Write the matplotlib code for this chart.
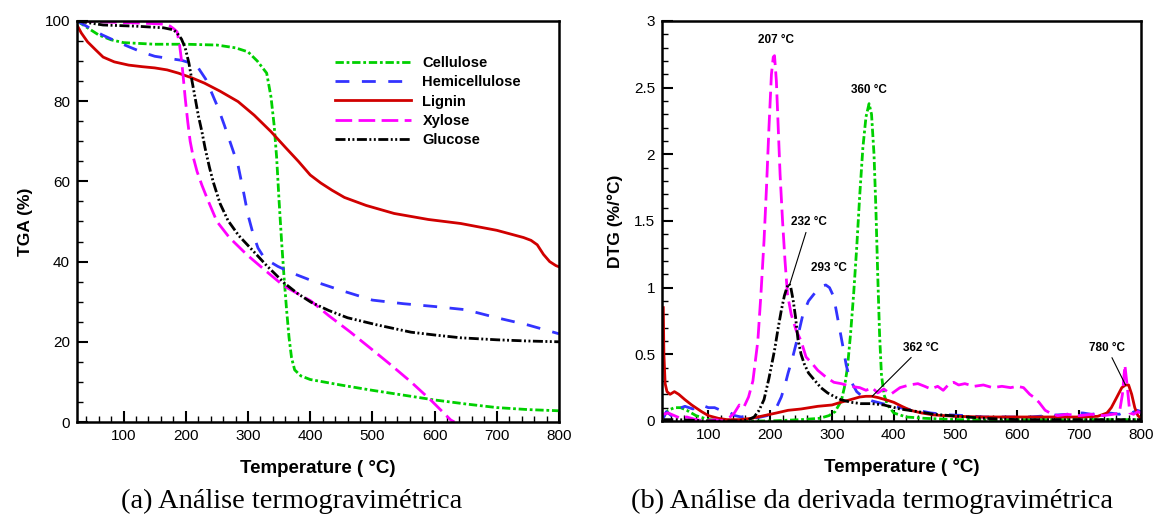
import matplotlib
matplotlib.use('Agg')
import matplotlib.pyplot as plt
from matplotlib.ticker import MultipleLocator, FormatStrFormatter

plt.rcParams['font.family'] = ['Liberation Sans', 'DejaVu Sans']

# ---- TGA (%) ----
t_cel = [25, 40, 60, 80, 100, 150, 200, 250, 280, 300, 315, 325, 330, 337, 342, 346, 350,
         354, 358, 362, 366, 370, 375, 385, 400, 450, 500, 550, 600, 650, 700, 750, 800]
tga_cel = [100, 98.5, 96.5, 95.3, 94.6, 94.2, 94.2, 94.0, 93.3, 92.3, 90.0, 88.0, 87.0, 81.0,
           74.0, 66.0, 55.0, 45.0, 36.0, 28.0, 21.0, 16.0, 13.0, 11.5, 10.6, 9.2, 7.9, 6.7,
           5.5, 4.5, 3.6, 3.1, 2.8]

t_hem = [25, 45, 66, 90, 108, 130, 150, 175, 193, 210, 220, 232, 241, 252, 262, 273, 284,
         292, 300, 308, 316, 325, 335, 348, 370, 400, 450, 500, 550, 600, 650, 700, 750, 800]
tga_hem = [100, 98.3, 96.5, 94.8, 93.6, 92.2, 91.2, 90.6, 90.2, 89.4, 88.3, 85.5, 82.3, 78.3,
           74.0, 69.0, 64.0, 58.0, 51.6, 47.0, 43.4, 41.2, 40.0, 38.8, 37.2, 35.4, 32.8, 30.4,
           29.5, 28.8, 28.0, 26.0, 24.2, 22.0]

t_lig = [25, 32, 42, 55, 67, 85, 108, 130, 150, 170, 188, 210, 230, 255, 284, 310, 337, 360,
         381, 400, 417, 435, 455, 490, 535, 590, 642, 700, 743, 755, 765, 775, 785, 795, 800]
tga_lig = [99, 97, 94.8, 92.8, 91, 89.8, 89, 88.6, 88.3, 87.8, 87, 85.8, 84.5, 82.5, 79.9,
           76.5, 72.4, 68.5, 65, 61.6, 59.6, 57.8, 56, 54, 52, 50.5, 49.5, 47.8, 46, 45.3,
           44.2, 41.8, 40.0, 39.0, 38.7]

t_xyl = [25, 60, 100, 140, 165, 175, 181, 186, 190, 194, 199, 203, 207, 212, 218, 226, 235,
         250, 270, 299, 330, 357, 380, 401, 430, 464, 500, 530, 562, 595, 626, 632]
tga_xyl = [100, 99.8, 99.6, 99.4, 99.2, 98.7, 98, 97.3, 94, 89, 80.8, 75, 70, 66, 62.5,
           59, 55.5, 50, 46, 41.6, 37.5, 34.0, 32.0, 30.2, 26.5, 22.5, 18, 14.2, 10,
           5.3, 0.5, 0]

t_glu = [25, 67, 120, 164, 180, 186, 193, 199, 205, 210, 215, 220, 226, 231, 238, 244, 255,
         268, 285, 305, 330, 358, 380, 401, 430, 460, 508, 562, 600, 642, 700, 750, 800]
tga_glu = [100, 99, 98.7, 98.3, 97.8, 97, 95.5, 93.3, 89.5, 85, 80.8, 76.5, 72.3, 68.3,
           63.5, 59.9, 54.5, 50.2, 46.5, 43.2, 39, 34.7, 32, 29.9, 27.8, 26, 24.2, 22.4,
           21.7, 21, 20.5, 20.2, 20]

# ---- DTG (%/°C) ----
d_t_cel = [27, 35, 45, 55, 65, 80, 100, 150, 200, 250, 280, 295, 305, 315, 320, 325, 330,
           335, 340, 345, 350, 355, 360, 364, 368, 371, 374, 377, 380, 384, 390, 400, 420,
           450, 500, 600, 700, 800]
dtg_cel = [0.03, 0.08, 0.1, 0.1, 0.08, 0.04, 0.01, 0.0, 0.0, 0.01, 0.02, 0.04, 0.07, 0.15,
           0.25, 0.4, 0.65, 0.95, 1.3, 1.7, 2.05, 2.28, 2.38, 2.3, 2.0, 1.6, 1.1, 0.65, 0.35,
           0.2, 0.12, 0.06, 0.03, 0.02, 0.01, 0.01, 0.01, 0.01]

d_t_hem = [27, 32, 40, 50, 62, 75, 89, 100, 110, 120, 132, 143, 153, 165, 174, 185, 195,
           202, 210, 218, 224, 229, 236, 243, 253, 262, 274, 283, 290, 296, 302, 306, 310,
           314, 318, 323, 328, 334, 340, 350, 365, 382, 400, 420, 439, 460, 492, 520, 545,
           580, 620, 650, 664, 680, 695, 706, 720, 735, 749, 765, 775, 785, 794, 800]
dtg_hem = [0.02, 0.07, 0.04, 0.09, 0.11, 0.09, 0.12, 0.1, 0.1, 0.08, 0.07, 0.04, 0.03, 0.04,
           0.02, 0.03, 0.04, 0.06, 0.1, 0.18, 0.27, 0.36, 0.47, 0.6, 0.8, 0.9, 0.97, 1.01,
           1.02, 1.0, 0.94, 0.85, 0.75, 0.65, 0.55, 0.42, 0.33, 0.27, 0.22, 0.18, 0.15, 0.13,
           0.11, 0.09, 0.08, 0.06, 0.045, 0.04, 0.03, 0.03, 0.03, 0.04, 0.045, 0.05, 0.06,
           0.06, 0.05, 0.06, 0.06, 0.05, 0.07, 0.06, 0.08, 0.07]

d_t_lig = [27, 28, 30, 33, 38, 45, 52, 62, 73, 89, 100, 116, 130, 150, 170, 190, 210, 229,
           250, 277, 300, 314, 330, 345, 355, 365, 375, 390, 400, 413, 427, 445, 465, 500,
           545, 600, 650, 706, 730, 745, 752, 760, 769, 775, 780, 785, 790, 795, 800]
dtg_lig = [0.85, 0.5, 0.28, 0.22, 0.2, 0.22, 0.2, 0.16, 0.12, 0.07, 0.04, 0.02, 0.01, 0.01,
           0.02, 0.04, 0.06, 0.08, 0.09, 0.11, 0.12, 0.14, 0.16, 0.18, 0.185, 0.185, 0.175,
           0.155, 0.14, 0.11, 0.08, 0.06, 0.045, 0.035, 0.03, 0.03, 0.03, 0.03, 0.035, 0.06,
           0.1, 0.17, 0.25, 0.27, 0.27, 0.2, 0.1, 0.04, 0.02]

d_t_xyl = [27, 35, 45, 55, 65, 80, 95, 110, 125, 135, 142, 150, 157, 165, 172, 180, 185,
           190, 194, 198, 202, 205, 207, 210, 213, 216, 220, 224, 228, 234, 242, 250, 258,
           268, 277, 290, 303, 315, 330, 345, 355, 365, 374, 384, 395, 410, 425, 439, 450,
           460, 471, 480, 490, 497, 505, 515, 530, 545, 560, 575, 589, 600, 610, 620, 626,
           635, 645, 653, 665, 680, 700, 720, 739, 755, 765, 770, 774, 778, 782, 788, 795, 800]
dtg_xyl = [0.05, 0.06, 0.04, 0.02, 0.03, 0.01, 0.0, 0.01, 0.0, 0.03, 0.06, 0.12, 0.1, 0.18,
           0.3, 0.6, 0.95, 1.35, 1.75, 2.2, 2.6, 2.73, 2.74, 2.55, 2.2, 1.85, 1.5, 1.2, 0.95,
           0.8, 0.68, 0.6, 0.48, 0.43, 0.38, 0.33, 0.29, 0.28, 0.26, 0.25, 0.23, 0.25, 0.21,
           0.24, 0.2, 0.25, 0.27, 0.28, 0.26, 0.24, 0.26, 0.23, 0.28, 0.29, 0.27, 0.28, 0.26,
           0.27, 0.25, 0.26, 0.25, 0.26, 0.25, 0.2, 0.18, 0.14, 0.08, 0.06, 0.04, 0.05, 0.04,
           0.05, 0.04, 0.05, 0.06, 0.2, 0.42, 0.25, 0.06, 0.05, 0.07, 0.06]

d_t_glu = [27, 50, 100, 150, 165, 174, 182, 190, 198, 207, 213, 218, 223, 227, 230, 233, 237,
           241, 245, 250, 255, 262, 271, 282, 293, 305, 314, 331, 347, 365, 384, 410, 439,
           465, 492, 545, 600, 700, 800]
dtg_glu = [0.01, 0.01, 0.0, 0.0, 0.01, 0.03, 0.08, 0.16, 0.32, 0.53, 0.7, 0.83, 0.94, 1.0,
           1.03, 1.01, 0.91, 0.78, 0.61, 0.5, 0.43, 0.36, 0.31, 0.25, 0.21, 0.18, 0.16, 0.14,
           0.13, 0.13, 0.12, 0.09, 0.07, 0.05, 0.04, 0.02, 0.01, 0.01, 0.01]

names = ['Cellulose', 'Hemicellulose', 'Lignin', 'Xylose', 'Glucose']
colors = ['#00d000', '#3333ff', '#d00000', '#ff00ff', '#000000']
styles = [(0, (3, 1, 1, 1)), (0, (5, 4.5)), '-', (0, (6, 2.3)), (0, (3.6, 0.9, 0.7, 0.9, 0.7, 0.9))]

tga = [(t_cel, tga_cel), (t_hem, tga_hem), (t_lig, tga_lig), (t_xyl, tga_xyl), (t_glu, tga_glu)]
dtg = [(d_t_cel, dtg_cel), (d_t_hem, dtg_hem), (d_t_lig, dtg_lig), (d_t_xyl, dtg_xyl),
       (d_t_glu, dtg_glu)]

fig = plt.figure(figsize=(11.54, 5.18), dpi=100)
ax1 = fig.add_axes([0.0667, 0.1853, 0.4177, 0.7742])
ax2 = fig.add_axes([0.5737, 0.1873, 0.4150, 0.7722])

lw = 2.0
for (x, y), n, c, s in zip(tga, names, colors, styles):
    ax1.plot(x, y, color=c, ls=s, lw=lw, label=n)
for (x, y), c, s in zip(dtg, colors, styles):
    ax2.plot(x, y, color=c, ls=s, lw=lw)

for ax in (ax1, ax2):
    ax.set_xlim(25, 800)
    ax.xaxis.set_major_locator(MultipleLocator(100))
    ax.xaxis.set_minor_locator(MultipleLocator(20))
    ax.tick_params(which='major', direction='in', length=8, width=1.5, labelsize=11,
                   top=False, right=False, pad=5)
    ax.tick_params(which='minor', direction='in', length=4.5, width=1.0, top=False, right=False)
    for sp in ax.spines.values():
        sp.set_linewidth(1.8)
    ax.set_xlabel('Temperature ( °C)', labelpad=12, fontsize=13.5, fontweight='bold')

ax1.set_ylim(0, 100)
ax1.yaxis.set_major_locator(MultipleLocator(20))
ax1.yaxis.set_minor_locator(MultipleLocator(5))
ax1.set_ylabel('TGA (%)', labelpad=8, fontsize=12.5, fontweight='bold')

ax2.set_ylim(0, 3)
ax2.yaxis.set_major_locator(MultipleLocator(0.5))
ax2.yaxis.set_minor_locator(MultipleLocator(0.1))
ax2.yaxis.set_major_formatter(FormatStrFormatter('%g'))
ax2.set_ylabel('DTG (%/°C)', labelpad=8, fontsize=12.5, fontweight='bold')

ax1.legend(loc='upper left', bbox_to_anchor=(0.52, 0.93), frameon=False,
           handlelength=5.2, handletextpad=0.8, labelspacing=0.35, borderpad=0,
           prop=dict(size=10.5, weight='bold'))

# peak annotations
ann = dict(fontsize=8.5, fontweight='bold', ha='center', va='center')
line = dict(arrowstyle='-', lw=0.8, color='black', shrinkA=1, shrinkB=0)
ax2.text(210, 2.86, '207 °C', **ann)
ax2.text(360, 2.48, '360 °C', **ann)
ax2.text(295, 1.15, '293 °C', **ann)
ax2.annotate('232 °C', xy=(232, 1.03), xytext=(263, 1.49), arrowprops=line, **ann)
ax2.annotate('362 °C', xy=(365, 0.185), xytext=(444, 0.55), arrowprops=line, **ann)
ax2.annotate('780 °C', xy=(775, 0.27), xytext=(745, 0.55), arrowprops=line, **ann)

cap = dict(fontsize=20.5, family='Liberation Serif', ha='center', va='center')
fig.text(292 / 1154, 1 - 501 / 518, '(a) Análise termogravimétrica', **cap)
fig.text(872 / 1154, 1 - 501 / 518, '(b) Análise da derivada termogravimétrica', **cap)

fig.savefig('out.png', dpi=100)
